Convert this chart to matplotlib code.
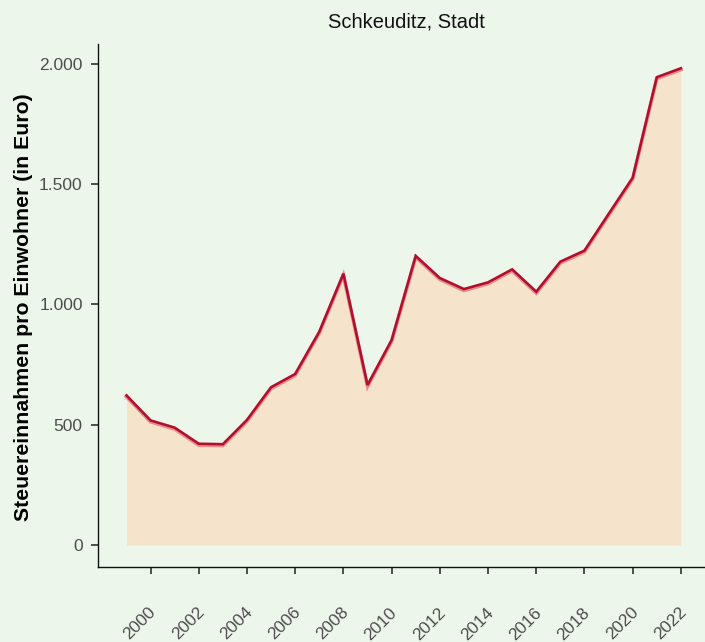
import matplotlib
matplotlib.use('Agg')
import matplotlib.pyplot as plt
import matplotlib.patheffects as pe
import matplotlib.transforms as mtransforms
from matplotlib.ticker import FuncFormatter

# Steuereinnahmen pro Einwohner, Schkeuditz
years = list(range(1999, 2023))
values = [622, 518, 488, 421, 419, 520, 656, 711, 887, 1128, 665, 852,
          1202, 1110, 1064, 1092, 1146, 1053, 1178, 1224, 1376, 1527, 1945, 1982]
xticks = list(range(2000, 2023, 2))
yticks = [0, 500, 1000, 1500, 2000]

bg = '#EDF6EB'
plt.rcParams['font.family'] = ['Liberation Sans', 'DejaVu Sans']

fig = plt.figure(figsize=(7.05, 6.42), dpi=100, facecolor=bg)
ax = fig.add_axes([98/705, 1 - 567/642, 607/705, (567 - 44)/642])
ax.set_facecolor(bg)

ax.fill_between(years, 0, values, color='#F5E3CB', linewidth=0)
ax.plot(years, values, color='#B0102E', linewidth=1.9, solid_joinstyle='miter',
        path_effects=[pe.SimpleLineShadow(offset=(0, -1), shadow_color='#E0505F', alpha=0.6, linewidth=2.6),
                      pe.Normal()])

ax.set_xlim(1997.82, 2023.0)
ax.set_ylim(-91.5, 2083)
ax.set_xticks(xticks)
ax.set_yticks(yticks)
ax.yaxis.set_major_formatter(FuncFormatter(lambda v, p: f'{int(v):,}'.replace(',', '.')))

for s in ['top', 'right']:
    ax.spines[s].set_visible(False)
for s in ['left', 'bottom']:
    ax.spines[s].set_color('#111111')
    ax.spines[s].set_linewidth(1.0)

ax.tick_params(axis='both', colors='#333333', labelcolor='#4D4D4D', labelsize=12.5,
               length=5, width=1.2)
ax.tick_params(axis='y', pad=6)
ax.tick_params(axis='x', pad=26)

offset = mtransforms.ScaledTranslation(3/100, 0, fig.dpi_scale_trans)
for lab in ax.get_xticklabels():
    lab.set_rotation(45)
    lab.set_ha('right')
    lab.set_va('center')
    lab.set_rotation_mode('anchor')
    lab.set_transform(lab.get_transform() + offset)

ax.set_ylabel('Steuereinnahmen pro Einwohner (in Euro)', fontsize=15.3, fontweight='bold',
              color='black')
ax.yaxis.set_label_coords(-(98 - 33)/607, (567 - 307)/523, transform=ax.transAxes)
fig.text(406/705, 1 - 22/642, 'Schkeuditz, Stadt', ha='center', va='center', fontsize=14.5,
         color='#111111')

fig.savefig('out.png', dpi=100, facecolor=bg)
